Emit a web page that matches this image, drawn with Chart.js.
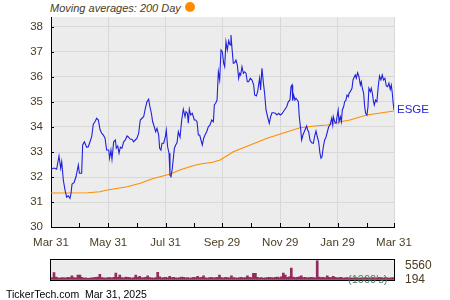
<!DOCTYPE html>
<html>
<head>
<meta charset="utf-8">
<title>ESGE</title>
<script src="https://cdn.jsdelivr.net/npm/chart.js@4"></script>
<style>
  body { margin: 0; width: 450px; height: 300px; background: #fff; position: relative; overflow: hidden;
         font-family: "Liberation Sans", Arial, sans-serif; }
  #main, #vol { position: absolute; left: 0; }
  #main { top: 0; }
  #vol { top: 250px; }
  #title { position: absolute; left: 50px; top: 2px; font-size: 11px; font-style: italic; color: #4a3c20; white-space: pre; }
  #dot { position: absolute; left: 185px; top: 2px; width: 10px; height: 10px; border-radius: 50%; background: #ff8c00; }
  #unit { position: absolute; left: 348px; top: 273px; font-size: 11px; color: #4d7d5d; }
  #footer { position: absolute; left: 6px; top: 288px; font-size: 10.5px; color: #000; white-space: pre; }
</style>
</head>
<body>
<div id="title">Moving averages: 200 Day</div>
<div id="dot"></div>
<canvas id="main" width="450" height="250"></canvas>
<canvas id="vol" width="450" height="40"></canvas>
<div id="unit">(1000's)</div>
<div id="footer">TickerTech.com  Mar 31, 2025</div>
<script>
// --- DATA (days since Mar 31, 2024) ---
const priceDays = [
    0, 3.2, 5.0, 6.0, 8.5, 10.3, 11.4, 13.1, 14.9, 16.7, 18.4, 20.2, 21.3, 22.4, 24.5, 26.6, 29.1, 30.2, 32.6, 33.7,
    35.5, 38.0, 39.7, 41.5, 43.3, 45.0, 46.8, 48.6, 50.4, 52.1, 53.9, 55.7, 57.5, 59.2,
    61.4, 62.4, 63.8, 64.9, 66.7, 68.5, 69.5, 71.0, 72.4, 73.8, 75.5, 77.3, 79.1, 80.9, 82.6, 84.4, 86.2, 87.9, 89.7, 91.5,
    93.3, 95.0, 96.8, 98.6, 100.4, 102.1, 103.9, 104.9, 106.8, 108.2, 109.9, 111.4, 112.8, 114.6, 115.6, 117.0, 118.1, 119.9, 121.7, 122.7,
    124.1, 125.6, 126.6, 127.7, 129.1, 131.3, 132.7, 134.1, 135.5, 137.3, 139.1, 140.8, 142.6, 143.7, 145.1, 146.1, 147.2, 148.6, 150.4, 152.5,
    153.9, 155.4, 156.8, 158.2, 159.6, 161.0, 162.5, 163.9, 165.7, 167.4, 169.2, 171.0, 172.8, 173.8, 175.2, 176.7, 178.1, 179.5, 180.9, 182.3, 183.7,
    184.8, 186.2, 187.6, 189.1, 190.5, 191.5, 192.6, 194.0, 195.4, 196.8, 198.3, 199.7, 200.8, 201.8, 203.2, 204.7, 206.1, 207.5, 208.9, 210.3,
    212.1, 213.9, 215.7, 216.7, 218.5, 219.9, 220.9, 222.0, 223.0, 224.5, 225.9, 227.3, 228.8, 230.5, 232.3, 233.7, 235.2, 236.9, 238.7, 240.5, 242.2, 244.0,
    245.5, 247.2, 249.0, 250.8, 252.5, 254.3, 255.4, 256.5, 257.2, 258.2, 259.6, 260.7, 262.1, 263.2, 264.2, 265.6, 266.7, 268.1, 269.5, 270.6,
    272.0, 273.1, 274.2, 275.6, 277.4, 279.2, 280.6, 282.0, 283.4, 284.8, 286.2, 287.3, 288.4, 289.8, 291.2, 292.6, 294.1, 295.5, 296.9, 298.7,
    299.8, 300.4, 301.9, 303.3, 304.7, 305.6, 306.5, 307.9, 309.0, 310.0, 311.4, 312.5, 313.9, 315.0, 316.4, 317.4, 318.5, 320.3, 321.4, 322.8,
    323.8, 324.9, 326.3, 327.7, 329.2, 330.2, 331.3, 332.7, 333.8, 334.8, 336.2, 337.3, 338.3, 339.8, 340.8, 341.9, 342.9, 344.0, 345.4, 346.8,
    348.2, 349.6, 351.1, 352.5, 353.9, 355.3, 356.8, 358.2, 359.6, 361.0, 362.1, 363.2, 364.0, 365
];
const priceValues = [
    32.31, 32.36, 32.33, 32.31, 32.84, 32.35, 32.61, 31.88, 31.48, 31.19, 31.25, 31.15, 31.35, 31.72, 31.77, 32.01, 32.48, 32.15, 32.15, 33.28,
    33.41, 33.19, 33.21, 33.41, 33.61, 34.11, 34.21, 34.35, 34.28, 33.91, 33.75, 33.68, 33.55, 33.08,
    33.08, 32.75, 33.08, 32.71, 33.41, 33.48, 33.15, 33.24, 32.95, 33.19, 33.15, 33.41, 33.48, 33.64, 33.59, 33.51, 33.51, 33.41, 33.48, 33.55,
    33.75, 34.28, 34.35, 34.41, 34.75, 35.01, 35.11, 34.88, 34.55, 34.21, 34.01, 33.81, 33.95, 33.68, 33.15, 33.08, 33.35, 33.35, 33.61, 33.88,
    33.21, 32.95, 32.08, 32.01, 32.35, 33.15, 33.28, 33.37, 33.81, 33.59, 34.28, 34.71, 34.41, 34.61, 34.55, 34.15, 34.71, 34.48, 34.55, 34.28,
    34.28, 34.21, 33.68, 33.68, 33.48, 33.28, 33.55, 33.68, 33.81, 34.01, 34.08, 34.28, 34.21, 34.88, 34.95, 35.08, 36.21, 35.88, 37.08, 37.01, 36.55,
    36.41, 37.41, 37.08, 37.45, 37.28, 37.68, 37.15, 36.55, 36.57, 36.68, 36.48, 35.95, 36.15, 36.08, 36.41, 36.15, 36.21, 36.15, 35.81, 35.81,
    35.95, 35.88, 35.68, 35.28, 35.24, 35.41, 35.68, 35.95, 35.48, 36.35, 35.81, 35.35, 34.68, 34.41, 34.15, 34.41, 34.57, 34.57, 34.55, 34.48, 34.55, 34.48,
    34.52, 34.61, 34.71, 34.81, 35.01, 35.08, 35.61, 35.68, 35.05, 35.28, 35.08, 35.15, 35.08, 35.01, 34.41, 33.95, 33.48, 33.68, 33.81, 33.91,
    34.04, 33.88, 33.81, 33.48, 33.37, 33.35, 33.64, 33.84, 33.61, 33.41, 32.95, 32.75, 32.81, 33.21, 33.48, 33.59, 33.81, 34.01, 34.08, 34.35,
    34.08, 34.41, 34.21, 34.15, 34.48, 34.68, 34.21, 34.41, 34.21, 34.68, 34.81, 35.01, 35.08, 35.28, 35.21, 35.37, 35.41, 35.55, 35.88, 36.01,
    36.08, 35.95, 36.17, 36.01, 35.68, 35.81, 35.55, 35.35, 34.81, 34.55, 34.48, 34.81, 35.55, 35.41, 35.55, 35.37, 35.08, 34.88, 35.08, 35.01,
    35.61, 36.04, 35.88, 36.08, 35.88, 35.95, 35.64, 35.61, 35.75, 35.51, 35.68, 35.35, 35.0, 34.68
];

// 200 day moving average
const maDays = [0, 39, 52, 60, 81, 95, 108, 127, 137, 151, 159, 172, 180, 194, 212, 230, 244, 265, 283, 294, 308, 318, 336, 365];
const maValues = [31.36, 31.37, 31.41, 31.48, 31.61, 31.75, 31.93, 32.12, 32.28, 32.45, 32.52, 32.59, 32.68, 33.01, 33.28, 33.55,
    33.72, 33.97, 34.05, 34.08, 34.21, 34.28, 34.48, 34.64];

// daily volume, thousands of shares
const volumes = [
    900, 2900, 1100, 800, 700, 900, 750, 800, 1000, 900,
    1600, 900, 800, 1900, 1900, 1000, 700, 800, 600, 700,
    750, 900, 1000, 1100, 2200, 900, 800, 700, 850, 900,
    800, 1000, 2700, 1000, 1900, 900, 800, 1100, 1000, 850,
    700, 900, 1900, 1000, 1400, 800, 900, 1000, 1600, 900,
    800, 700, 900, 3000, 1200, 800, 900, 1000, 800, 1400,
    900, 1000, 800, 700, 900, 1100, 1000, 800, 900, 700,
    800, 1000, 900, 1400, 900, 1000, 1600, 800, 700, 900,
    1000, 800, 900, 1000, 1900, 900, 800, 1000, 900, 800,
    1600, 900, 800, 700, 900, 1000, 800, 900, 1600, 1000,
    900, 2600, 2600, 1000, 800, 900, 700, 800, 900, 1000,
    900, 800, 1000, 1100, 900, 1200, 2700, 1900, 1000, 1200,
    4650, 1100, 900, 1000, 1200, 1600, 900, 1000, 800, 900,
    1000, 900, 800, 7600, 1100, 900, 1000, 800, 1600, 1000,
    900, 1400, 1000, 800, 900, 1000, 700, 800, 900, 700,
    800, 700, 900, 800, 600, 800, 700, 900, 800, 700,
    800, 900, 700, 800, 1000, 800, 700, 900, 800, 700, 800, 900
];

const tickDays = [0, 30, 61, 91, 122, 152, 182, 213, 244, 275, 305, 336, 365];
const tickLabels = ['Mar 31', '', 'May 31', '', 'Jul 31', '', 'Sep 29', '', 'Nov 29', '', 'Jan 29', '', 'Mar 31'];
const yTickValues = [30, 30.5, 31, 31.5, 32, 32.5, 33, 33.5, 34, 34.5, 35, 35.5, 36, 36.5, 37, 37.5, 38];
const volTicks = [194, 5560];
const ticker = 'ESGE';

// --- STYLE ---
const labelColor = '#4a3c20';
const gridColor = '#d8d8d8';
const plotBg = '#ececec';
Chart.defaults.font.family = '"Liberation Sans", Arial, sans-serif';

// background, inner tick marks and ticker label
const plotDecor = {
    id: 'plotDecor',
    beforeDraw(chart) {
        const { ctx, chartArea: a } = chart;
        ctx.save();
        ctx.fillStyle = plotBg;
        ctx.fillRect(a.left, a.top, a.right - a.left, a.bottom - a.top);
        ctx.restore();
    },
    afterDraw(chart) {
        const { ctx, chartArea: a, scales } = chart;
        ctx.save();
        ctx.strokeStyle = '#000';
        ctx.lineWidth = 1;
        ctx.beginPath();
        scales.x.ticks.forEach(t => {
            const px = Math.round(scales.x.getPixelForValue(t.value)) + 0.5;
            ctx.moveTo(px, a.bottom);
            ctx.lineTo(px, a.bottom - 4);
        });
        scales.y.ticks.forEach(t => {
            const py = Math.round(scales.y.getPixelForValue(t.value)) + 0.5;
            ctx.moveTo(a.left, py);
            ctx.lineTo(a.left + 3, py);
        });
        ctx.stroke();
        ctx.fillStyle = '#2222dd';
        ctx.font = '11.5px "Liberation Sans", Arial, sans-serif';
        ctx.textBaseline = 'middle';
        ctx.fillText(ticker, a.right + 3, scales.y.getPixelForValue(priceValues[priceValues.length - 1]));
        ctx.restore();
    }
};

new Chart(document.getElementById('main'), {
    type: 'line',
    data: {
        datasets: [
            {
                label: ticker,
                data: priceDays.map((d, i) => ({ x: d, y: priceValues[i] })),
                borderColor: '#2020dd',
                borderWidth: 1.1,
                pointRadius: 0,
                tension: 0
            },
            {
                label: '200 Day',
                data: maDays.map((d, i) => ({ x: d, y: maValues[i] })),
                borderColor: '#ff8c00',
                borderWidth: 1.1,
                pointRadius: 0,
                tension: 0
            }
        ]
    },
    options: {
        responsive: false,
        animation: false,
        layout: { padding: { top: 17, right: 56, left: 0, bottom: 0 } },
        plugins: { legend: { display: false }, tooltip: { enabled: false } },
        scales: {
            x: {
                type: 'linear',
                min: 0,
                max: 365,
                afterBuildTicks: s => { s.ticks = tickDays.map(v => ({ value: v })); },
                afterFit: s => { s.height = 23; },
                grid: {
                    color: c => (c.index % 2 === 0 ? gridColor : 'rgba(0,0,0,0)'),
                    drawTicks: false
                },
                border: { color: '#000', width: 1 },
                ticks: {
                    autoSkip: false,
                    maxRotation: 0,
                    padding: 9,
                    color: labelColor,
                    font: { size: 11.5 },
                    callback: (v, i) => tickLabels[i]
                }
            },
            y: {
                min: 30,
                max: 38.4,
                afterBuildTicks: s => { s.ticks = yTickValues.map(v => ({ value: v })); },
                afterFit: s => { s.width = 51; },
                grid: {
                    color: c => (c.tick && Number.isInteger(c.tick.value) ? gridColor : 'rgba(0,0,0,0)'),
                    drawTicks: false
                },
                border: { color: '#000', width: 1 },
                ticks: {
                    padding: 8,
                    color: labelColor,
                    font: { size: 11.5 },
                    callback: v => (Number.isInteger(v) ? v : '')
                }
            }
        }
    },
    plugins: [plotDecor]
});

// volume panel box
const volBox = {
    id: 'volBox',
    beforeDraw(chart) {
        const { ctx, chartArea: a } = chart;
        ctx.save();
        ctx.fillStyle = plotBg;
        ctx.fillRect(a.left, a.top, a.right - a.left, a.bottom - a.top);
        ctx.restore();
    },
    afterDraw(chart) {
        const { ctx, chartArea: a } = chart;
        ctx.save();
        ctx.strokeStyle = '#000';
        ctx.lineWidth = 1;
        ctx.strokeRect(Math.round(a.left) - 0.5, Math.round(a.top) - 0.5, Math.round(a.right - a.left) + 1, Math.round(a.bottom - a.top) + 1);
        ctx.restore();
    }
};

new Chart(document.getElementById('vol'), {
    type: 'bar',
    data: {
        labels: volumes.map((v, i) => i),
        datasets: [{
            data: volumes,
            backgroundColor: '#962a5c',
            barPercentage: 1,
            categoryPercentage: 1
        }]
    },
    options: {
        responsive: false,
        animation: false,
        layout: { padding: { top: 6, bottom: 5, left: 51, right: 0 } },
        plugins: { legend: { display: false }, tooltip: { enabled: false } },
        scales: {
            x: { display: false },
            y: {
                position: 'right',
                min: 0,
                max: 7800,
                afterBuildTicks: s => { s.ticks = volTicks.map(v => ({ value: v })); },
                afterFit: s => { s.width = 56; },
                grid: { display: false },
                border: { display: false },
                ticks: { padding: 3, color: labelColor, font: { size: 12 }, callback: v => String(v) }
            }
        }
    },
    plugins: [volBox]
});
</script>
</body>
</html>
